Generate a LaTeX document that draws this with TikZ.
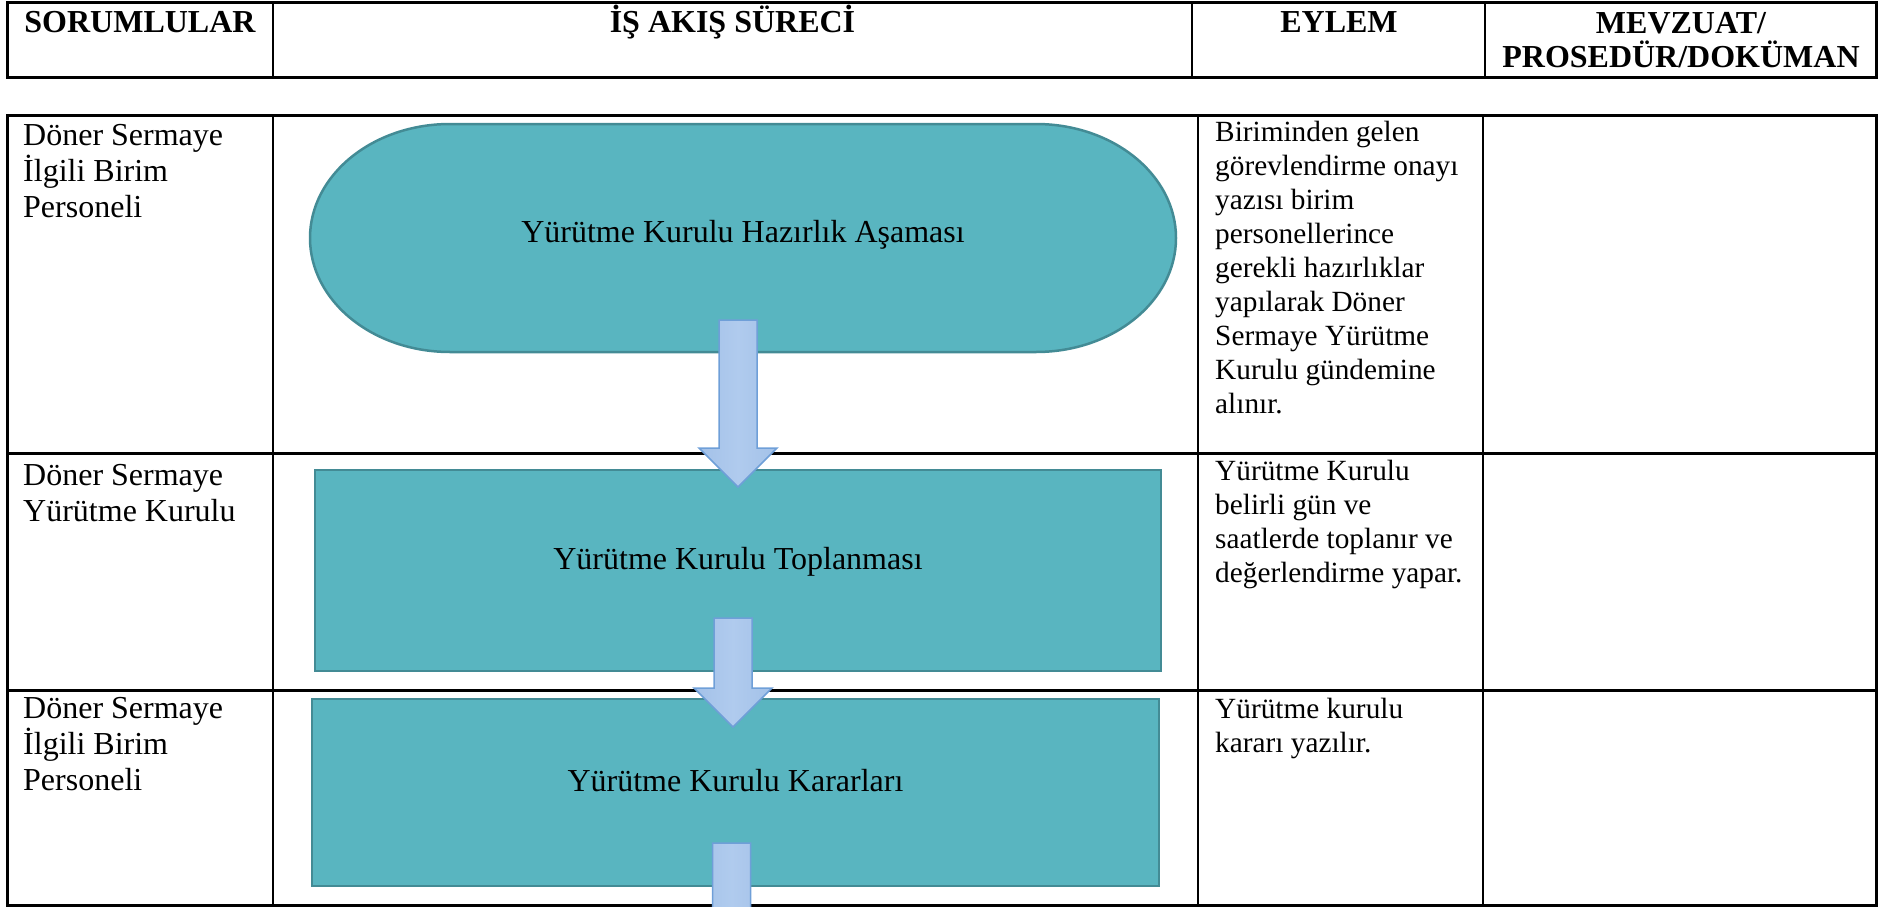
\documentclass[tikz,border=0pt]{standalone}
\usepackage{fontspec}
\setmainfont{Liberation Serif}
\usetikzlibrary{calc,backgrounds}

\definecolor{surecfill}{HTML}{59B5C0}
\definecolor{surecline}{HTML}{438B95}
\definecolor{okfill}{HTML}{A3C1E8}
\definecolor{okmid}{HTML}{B0CBEE}
\definecolor{okline}{HTML}{6F9FD8}

\newcommand{\ust}{\rule{0pt}{32pt}}

\tikzset{
  okblok/.style={line width=1.5pt,draw=okline,left color=okfill,right color=okfill,middle color=okmid,
    to path={let \p1=(\tikztostart),\p2=(\tikztotarget) in
      (\x1-19pt,\y1) -- (\x1+19pt,\y1) -- (\x1+19pt,\y2+39pt) -- (\x1+39pt,\y2+39pt)
      -- (\x1,\y2) -- (\x1-39pt,\y2+39pt) -- (\x1-19pt,\y2+39pt) -- cycle}}
}

\begin{document}
\begin{tikzpicture}
  [x=1pt,y=1pt,
   baslik/.style={font=\fontsize{32}{34}\selectfont\bfseries,inner sep=0pt,align=center},
   hucre/.style={anchor=north west,inner sep=0pt,align=left,font=\fontsize{32}{36}\selectfont},
   eylem/.style={anchor=north west,inner sep=0pt,align=left,font=\fontsize{29.3}{34}\selectfont},
   surec/.style={rectangle,fill=surecfill,draw=surecline,line width=2.5pt,outer sep=0pt,
     font=\fontsize{32}{36}\selectfont,text height=10pt,text depth=13pt}]
  \useasboundingbox (0,0) rectangle (1883,-907);
  \clip (0,0) rectangle (1883,-907);

  % baslik tablosu
  \draw[line width=3pt] (7.5,-2.5) rectangle (1876.5,-77.5);
  \draw[line width=2pt] (273,-2.5) -- (273,-77.5) (1192,-2.5) -- (1192,-77.5) (1485,-2.5) -- (1485,-77.5);
  \node[baslik,anchor=base] (hsor) at (140,-33) {SORUMLULAR};
  \node[baslik,anchor=base] (hsurec) at (732.5,-33) {İŞ AKIŞ SÜRECİ};
  \node[baslik,anchor=base] (heylem) at (1339,-33) {EYLEM};
  \node[baslik,anchor=north] (hmevzuat) at (1681,-1) {\ust MEVZUAT/\\PROSEDÜR/DOKÜMAN};

  % govde tablosu
  \draw[line width=3pt] (7.5,-115) rectangle (1876.5,-905.5);
  \draw[line width=3pt] (7.5,-453) -- (1876.5,-453) (7.5,-690.5) -- (1876.5,-690.5);
  \draw[line width=2pt] (273,-115) -- (273,-905.5) (1198,-115) -- (1198,-905.5) (1483,-115) -- (1483,-905.5);

  \node[surec,draw=none,fill=none,text height=17pt,text depth=9pt,minimum width=866pt,minimum height=228pt] (hazirlik) at (743,-238) {Yürütme Kurulu Hazırlık Aşaması};
  \begin{scope}[on background layer]
    \filldraw[fill=surecfill,draw=surecline,line width=2.5pt]
      ([xshift=140pt]hazirlik.north west) -- ([xshift=-140pt]hazirlik.north east)
      arc[start angle=90,end angle=-90,x radius=140pt,y radius=114pt]
      -- ([xshift=140pt]hazirlik.south west)
      arc[start angle=270,end angle=90,x radius=140pt,y radius=114pt] -- cycle;
  \end{scope}
  \node[surec,minimum width=846pt,minimum height=201pt] (toplanti) at (738,-570.5) {Yürütme Kurulu Toplanması};
  \node[surec,minimum width=847pt,minimum height=187pt] (kararlar) at (735.5,-792.5) {Yürütme Kurulu Kararları};
  \coordinate (cikis) at (731.5,-990);

  \draw[okblok] ([xshift=-5pt,yshift=32pt]hazirlik.south) to ([yshift=-17pt]toplanti.north);
  \draw[okblok] ([xshift=-5pt,yshift=53pt]toplanti.south) to ([yshift=-28pt]kararlar.north);
  \draw[okblok] ([xshift=-4pt,yshift=43pt]kararlar.south) to (cikis);

  \node[hucre] (sor1) at (23,-113) {\ust Döner Sermaye\\İlgili Birim\\Personeli};
  \node[hucre] (sor2) at (23,-453) {\ust Döner Sermaye\\Yürütme Kurulu};
  \node[hucre] (sor3) at (23,-686) {\ust Döner Sermaye\\İlgili Birim\\Personeli};
  \node[eylem] (eyl1) at (1215,-109) {\ust Biriminden gelen\\görevlendirme onayı\\yazısı birim\\personellerince\\gerekli hazırlıklar\\yapılarak Döner\\Sermaye Yürütme\\Kurulu gündemine\\alınır.};
  \node[eylem] (eyl2) at (1215,-448) {\ust Yürütme Kurulu\\belirli gün ve\\saatlerde toplanır ve\\değerlendirme yapar.};
  \node[eylem] (eyl3) at (1215,-686) {\ust Yürütme kurulu\\kararı yazılır.};
\end{tikzpicture}
\end{document}
